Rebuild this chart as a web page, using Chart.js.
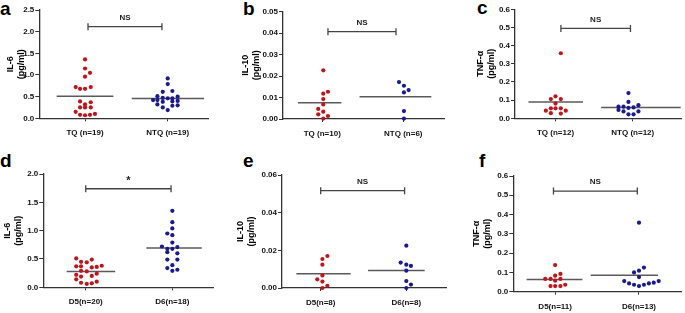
<!DOCTYPE html>
<html>
<head>
<meta charset="utf-8">
<script src="https://cdn.jsdelivr.net/npm/chart.js@4.4.0/dist/chart.umd.min.js"></script>
<style>
  body { margin: 0; background: #fff; width: 685px; height: 313px; position: relative; overflow: hidden; }
  canvas { position: absolute; }
  .letter { position: absolute; font: bold 19px "Liberation Sans", Arial, sans-serif; line-height: 19px; color: #000; }
</style>
</head>
<body>
<div class="letter" style="left:0px;top:-1px">a</div>
<div class="letter" style="left:243px;top:-1px">b</div>
<div class="letter" style="left:477px;top:-2px">c</div>
<div class="letter" style="left:0px;top:151px">d</div>
<div class="letter" style="left:243px;top:151px">e</div>
<div class="letter" style="left:479px;top:151px">f</div>

<canvas id="pa" width="228" height="150" style="left:0;top:0"></canvas>
<canvas id="pb" width="227" height="150" style="left:228px;top:0"></canvas>
<canvas id="pc" width="230" height="150" style="left:455px;top:0"></canvas>
<canvas id="pd" width="228" height="163" style="left:0;top:150px"></canvas>
<canvas id="pe" width="227" height="163" style="left:228px;top:150px"></canvas>
<canvas id="pf" width="230" height="163" style="left:455px;top:150px"></canvas>

<script>
// ---- data ----
// a: IL-6, TQ vs NTQ
const aCats = ['TQ (n=19)', 'NTQ (n=19)'];
const aTicks = ['0.0', '0.5', '1.0', '1.5', '2.0', '2.5'];
const aTQ = [1.36, 1.15, 1.05, 0.96, 0.72, 0.68, 0.68, 0.72, 0.39, 0.37, 0.32, 0.25, 0.25, 0.25, 0.15, 0.08, 0.07, 0.08, 0.10];
const aTQJit = [0, 0, 0.06, 0, -0.113, -0.06, 0, 0.069, -0.06, 0.069, 0, -0.06, 0, 0.069, -0.113, -0.06, 0, 0.06, 0.12];
const aNTQ = [0.92, 0.79, 0.63, 0.61, 0.51, 0.50, 0.47, 0.46, 0.46, 0.42, 0.42, 0.40, 0.39, 0.38, 0.32, 0.30, 0.29, 0.25, 0.19];
const aNTQJit = [0, 0, 0.056, -0.06, -0.125, 0.12, -0.06, 0, 0.056, -0.177, -0.125, 0.12, 0.056, -0.06, -0.125, 0.12, 0.056, -0.06, 0];

// b: IL-10, TQ vs NTQ
const bCats = ['TQ (n=10)', 'NTQ (n=6)'];
const bTicks = ['0.00', '0.01', '0.02', '0.03', '0.04', '0.05'];
const bTQ = [0.0227, 0.0127, 0.0118, 0.0093, 0.0068, 0.0047, 0.0034, 0.0022, 0.0014, 0.0002];
const bTQJit = [0.012, 0.07, 0.012, 0.012, 0.012, -0.05, 0.012, -0.05, 0.07, 0.012];
const bNTQ = [0.0172, 0.0155, 0.0135, 0.0124, 0.0037, 0.0002];
const bNTQJit = [-0.053, 0.008, 0.066, 0.008, 0.008, 0.008];

// c: TNF-a, TQ vs NTQ
const cCats = ['TQ (n=12)', 'NTQ (n=12)'];
const cTicks = ['0.0', '0.1', '0.2', '0.3', '0.4', '0.5', '0.6'];
const cTQ = [0.358, 0.121, 0.106, 0.106, 0.081, 0.055, 0.055, 0.055, 0.042, 0.042, 0.028, 0.026];
const cTQJit = [0.069, 0, -0.06, 0.069, 0, -0.06, 0, 0.069, -0.125, 0.133, -0.06, 0.069];
const cNTQ = [0.139, 0.09, 0.064, 0.064, 0.057, 0.06, 0.072, 0.046, 0.038, 0.038, 0.022, 0.022];
const cNTQJit = [-0.056, -0.056, -0.185, -0.12, -0.056, 0.01, 0.073, -0.185, -0.12, 0.073, -0.056, 0.01];

// d: IL-6, D5 vs D6
const dCats = ['D5(n=20)', 'D6(n=18)'];
const dTicks = ['0.0', '0.5', '1.0', '1.5', '2.0'];
const dD5 = [0.51, 0.49, 0.45, 0.44, 0.38, 0.37, 0.37, 0.36, 0.35, 0.29, 0.28, 0.24, 0.22, 0.20, 0.19, 0.14, 0.10, 0.08, 0.07, 0.06];
const dD5Jit = [-0.11, 0.07, -0.054, 0.012, 0.185, -0.11, -0.054, 0.127, 0.07, -0.054, 0.012, 0.127, -0.11, 0.07, -0.054, -0.11, 0.127, -0.054, 0.07, 0.012];
const dD6 = [1.35, 1.15, 1.04, 0.95, 0.92, 0.79, 0.72, 0.68, 0.68, 0.71, 0.62, 0.60, 0.49, 0.49, 0.39, 0.34, 0.29, 0.31];
const dD6Jit = [0, 0, 0, -0.058, 0, 0, -0.12, -0.058, 0, 0.058, -0.058, 0.058, -0.058, 0.058, 0, -0.058, 0, 0.058];

// e: IL-10, D5 vs D6
const eCats = ['D5(n=8)', 'D6(n=8)'];
const eTicks = ['0.00', '0.02', '0.04', '0.06'];
const eD5 = [0.017, 0.0154, 0.0124, 0.0067, 0.0046, 0.0034, 0.0012, 0.0];
const eD5Jit = [0.078, 0.02, 0.02, 0.02, -0.04, 0.02, 0.078, 0.02];
const eD6 = [0.0225, 0.0135, 0.0124, 0.0117, 0.0092, 0.0037, 0.0018, 0.0];
const eD6Jit = [0, -0.066, 0, 0.054, 0, 0, 0.054, 0];

// f: TNF-a, D5 vs D6
const fCats = ['D5(n=11)', 'D6(n=13)'];
const fTicks = ['0.0', '0.1', '0.2', '0.3', '0.4', '0.5', '0.6'];
const fD5 = [0.138, 0.092, 0.083, 0.066, 0.066, 0.066, 0.057, 0.029, 0.029, 0.029, 0.036];
const fD5Jit = [0, 0.063, 0, -0.118, -0.055, 0.063, 0, -0.055, 0, 0.063, 0.12];
const fD6 = [0.358, 0.125, 0.109, 0.1, 0.076, 0.055, 0.043, 0.036, 0.029, 0.036, 0.043, 0.047, 0.055];
const fD6Jit = [0, 0.059, 0, -0.059, 0, -0.176, -0.118, -0.059, 0, 0.059, 0.118, 0.176, 0.235];

const RED = '#c0141c';
const BLUE = '#1a1a8e';
const AXIS = '#333';
const FONT = '"Liberation Sans", Arial, sans-serif';

//bracket + significance mark, drawn in data units
const bracketPlugin = {
  id: 'bracket',
  afterDatasetsDraw(chart, args, opts) {
    if (!opts || opts.y === undefined) return;
    const {ctx, scales: {x, y}} = chart;
    const yy = y.getPixelForValue(opts.y);
    const x1 = x.getPixelForValue(opts.from);
    const x2 = x.getPixelForValue(opts.to);
    ctx.save();
    ctx.strokeStyle = '#444';
    ctx.lineWidth = 1.3;
    ctx.beginPath();
    ctx.moveTo(x1, yy); ctx.lineTo(x2, yy);
    ctx.moveTo(x1, yy - 3.5); ctx.lineTo(x1, yy + 3.5);
    ctx.moveTo(x2, yy - 3.5); ctx.lineTo(x2, yy + 3.5);
    ctx.stroke();
    ctx.fillStyle = '#222';
    ctx.textAlign = 'center';
    ctx.textBaseline = 'bottom';
    if (opts.label === '*') {
      ctx.font = 'bold 11px ' + FONT;
      ctx.fillText(opts.label, (x1 + x2) / 2, yy - 2);
    } else {
      ctx.font = 'bold 8px ' + FONT;
      ctx.fillText(opts.label, (x1 + x2) / 2, yy - 5);
    }
    ctx.restore();
  }
};

function mean(arr) {
  return arr.reduce((s, v) => s + v, 0) / arr.length;
}

function makePanel(id, p) {
  const canvas = document.getElementById(id);
  const W = canvas.width, H = canvas.height;
  const datasets = [];
  p.groups.forEach((g, i) => {
    const pos = i + 1;
    const m = mean(g.values);
    datasets.push({
      type: 'line',
      data: [{x: g.span[0], y: m}, {x: g.span[1], y: m}],
      borderColor: '#5a5a5a',
      borderWidth: 1.5,
      pointRadius: 0,
      order: 1
    });
    datasets.push({
      type: 'scatter',
      data: g.values.map((v, k) => ({x: pos + g.jitter[k], y: v})),
      pointRadius: 2.1,
      pointBackgroundColor: g.color,
      pointBorderWidth: 0,
      clip: false,
      order: 0
    });
  });

  const yTickValues = p.ticks.map(t => parseFloat(t));

  new Chart(canvas, {
    data: {datasets: datasets},
    plugins: [bracketPlugin],
    options: {
      responsive: false,
      animation: false,
      devicePixelRatio: 1,
      layout: {padding: {top: p.area.t, right: W - p.area.r, left: 0, bottom: 0}},
      plugins: {
        legend: {display: false},
        tooltip: {enabled: false},
        bracket: p.bracket
      },
      scales: {
        x: {
          type: 'linear',
          min: p.xmin,
          max: p.xmax,
          afterBuildTicks: (s) => { s.ticks = [{value: 1}, {value: 2}]; },
          afterFit: (s) => { s.height = H - p.area.b; },
          ticks: {
            callback: (v) => p.cats[Math.round(v) - 1],
            font: {family: FONT, size: 8, weight: 'bold'},
            color: '#111',
            padding: 7,
            maxRotation: 0,
            autoSkip: false
          },
          grid: {drawOnChartArea: false, drawTicks: true, tickLength: 3, color: AXIS, lineWidth: 1},
          border: {color: AXIS, width: 1.3}
        },
        y: {
          type: 'linear',
          min: yTickValues[0],
          max: yTickValues[yTickValues.length - 1],
          afterBuildTicks: (s) => { s.ticks = yTickValues.map(v => ({value: v})); },
          afterFit: (s) => { s.width = p.area.l; },
          ticks: {
            callback: (v) => p.ticks[yTickValues.indexOf(v)],
            font: {family: FONT, size: 8, weight: 'bold'},
            color: '#111',
            padding: 1
          },
          grid: {drawOnChartArea: false, drawTicks: true, tickLength: 4, color: AXIS, lineWidth: 1},
          border: {color: AXIS, width: 1.3},
          title: {
            display: true,
            text: p.title,
            font: {family: FONT, size: 9, weight: 'bold', lineHeight: 1.2},
            color: '#000',
            padding: {top: p.titlePad, bottom: 0}
          }
        }
      }
    }
  });
}

makePanel('pa', {
  cats: aCats, ticks: aTicks, title: ['IL-6', '(pg/ml)'], titlePad: 5,
  area: {l: 39.3, r: 208, t: 10, b: 118.3}, xmin: 0.447, xmax: 2.487,
  groups: [
    {values: aTQ, jitter: aTQJit, color: RED, span: [0.657, 1.343]},
    {values: aNTQ, jitter: aNTQJit, color: BLUE, span: [1.565, 2.44]}
  ],
  bracket: {y: 2.115, from: 1.036, to: 1.93, label: 'NS'}
});

makePanel('pb', {
  cats: bCats, ticks: bTicks, title: ['IL-10', '(pg/ml)'], titlePad: 12,
  area: {l: 55, r: 216.7, t: 11.7, b: 119}, xmin: 0.515, xmax: 2.511,
  groups: [
    {values: bTQ, jitter: bTQJit, color: RED, span: [0.70, 1.235]},
    {values: bNTQ, jitter: bNTQJit, color: BLUE, span: [1.46, 2.346]}
  ],
  bracket: {y: 0.0407, from: 1.07, to: 1.91, label: 'NS'}
});

makePanel('pc', {
  cats: cCats, ticks: cTicks, title: ['TNF-α', '(pg/ml)'], titlePad: 20,
  area: {l: 60, r: 226.7, t: 9.3, b: 118.3}, xmin: 0.476, xmax: 2.624,
  groups: [
    {values: cTQ, jitter: cTQJit, color: RED, span: [0.65, 1.356]},
    {values: cNTQ, jitter: cNTQJit, color: BLUE, span: [1.59, 2.62]}
  ],
  bracket: {y: 0.495, from: 1.07, to: 1.97, label: 'NS'}
});

makePanel('pd', {
  cats: dCats, ticks: dTicks, title: ['IL-6', '(pg/ml)'], titlePad: 2.5,
  area: {l: 43.3, r: 213.3, t: 24, b: 137.3}, xmin: 0.51, xmax: 2.473,
  groups: [
    {values: dD5, jitter: dD5Jit, color: RED, span: [0.78, 1.34]},
    {values: dD6, jitter: dD6Jit, color: BLUE, span: [1.70, 2.34]}
  ],
  bracket: {y: 1.74, from: 1.0, to: 1.985, label: '*'}
});

makePanel('pe', {
  cats: eCats, ticks: eTicks, title: ['IL-10', '(pg/ml)'], titlePad: 7,
  area: {l: 54, r: 218.3, t: 25, b: 138}, xmin: 0.548, xmax: 2.467,
  groups: [
    {values: eD5, jitter: eD5Jit, color: RED, span: [0.716, 1.35]},
    {values: eD6, jitter: eD6Jit, color: BLUE, span: [1.553, 2.214]}
  ],
  bracket: {y: 0.0517, from: 1.0, to: 1.98, label: 'NS'}
});

makePanel('pf', {
  cats: fCats, ticks: fTicks, title: ['TNF-α', '(pg/ml)'], titlePad: 16,
  area: {l: 58.3, r: 228.3, t: 26, b: 141.7}, xmin: 0.501, xmax: 2.501,
  groups: [
    {values: fD5, jitter: fD5Jit, color: RED, span: [0.66, 1.325]},
    {values: fD6, jitter: fD6Jit, color: BLUE, span: [1.424, 2.227]}
  ],
  bracket: {y: 0.522, from: 0.98, to: 1.98, label: 'NS'}
});
</script>
</body>
</html>
